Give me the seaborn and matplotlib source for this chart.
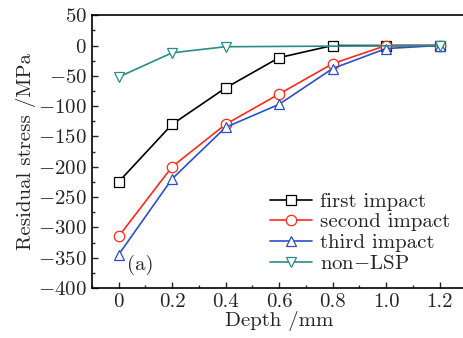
import numpy as np
import pandas as pd
import matplotlib
matplotlib.use("Agg")
import matplotlib.pyplot as plt
import seaborn as sns
from matplotlib.ticker import MultipleLocator

# data
depth = [0.0, 0.2, 0.4, 0.6, 0.8, 1.0, 1.2]
first_impact = [-225, -130, -70, -20, 0, 0, 0]
second_impact = [-315, -200, -130, -80, -30, 0, 0]
third_impact = [-345, -220, -135, -97, -38, -5, 0]
depth_non = [0.0, 0.2, 0.4, 1.2]
non_lsp = [-52, -12, -2, 0]

series = [
    ("first impact", depth, first_impact, "black", "s"),
    ("second impact", depth, second_impact, "#ff2a1a", "o"),
    ("third impact", depth, third_impact, "#2a4fc8", "^"),
    ("non$-$LSP", depth_non, non_lsp, "#2a8c88", "v"),
]

sns.set_theme(style="ticks")
plt.rcParams["font.family"] = ["cmr10", "DejaVu Serif"]
plt.rcParams["mathtext.fontset"] = "cm"
plt.rcParams["axes.formatter.use_mathtext"] = True

FS = 15

fig, ax = plt.subplots(figsize=(4.64, 3.38), dpi=100)
fig.subplots_adjust(left=0.198, right=1.005, top=0.955, bottom=0.148)

for name, xs, ys, col, mk in series:
    df = pd.DataFrame({"x": xs, "y": ys})
    sns.lineplot(data=df, x="x", y="y", ax=ax, color=col, lw=1.2,
                 marker=mk, markersize=7.5, markerfacecolor="white",
                 markeredgecolor=col, markeredgewidth=0.9, label=name)

ax.set_xlim(-0.1, 1.3)
ax.set_ylim(-400, 50)
ax.xaxis.set_major_locator(MultipleLocator(0.2))
ax.xaxis.set_minor_locator(MultipleLocator(0.1))
ax.yaxis.set_major_locator(MultipleLocator(50))
ax.yaxis.set_minor_locator(MultipleLocator(25))
ax.set_xticks([0, 0.2, 0.4, 0.6, 0.8, 1.0, 1.2])
ax.set_xticklabels(["0", "0.2", "0.4", "0.6", "0.8", "1.0", "1.2"])
ax.tick_params(which="both", direction="in", labelsize=FS, top=False, right=False)
ax.tick_params(which="major", length=4, width=1)
ax.tick_params(which="minor", length=2.5, width=1)
for s in ax.spines.values():
    s.set_linewidth(1.2)
    s.set_color("black")

ax.set_xlabel("Depth /mm", fontsize=FS, labelpad=0)
ax.set_ylabel("Residual stress /MPa", fontsize=FS, labelpad=2)
ax.text(0.03, -370, "(a)", fontsize=FS)

leg = ax.legend(loc="lower right", frameon=False, fontsize=FS, handlelength=2.0,
                handletextpad=0.4, labelspacing=0.1, borderaxespad=0.0,
                bbox_to_anchor=(0.98, 0.025))

fig.savefig("out.png", dpi=100)
